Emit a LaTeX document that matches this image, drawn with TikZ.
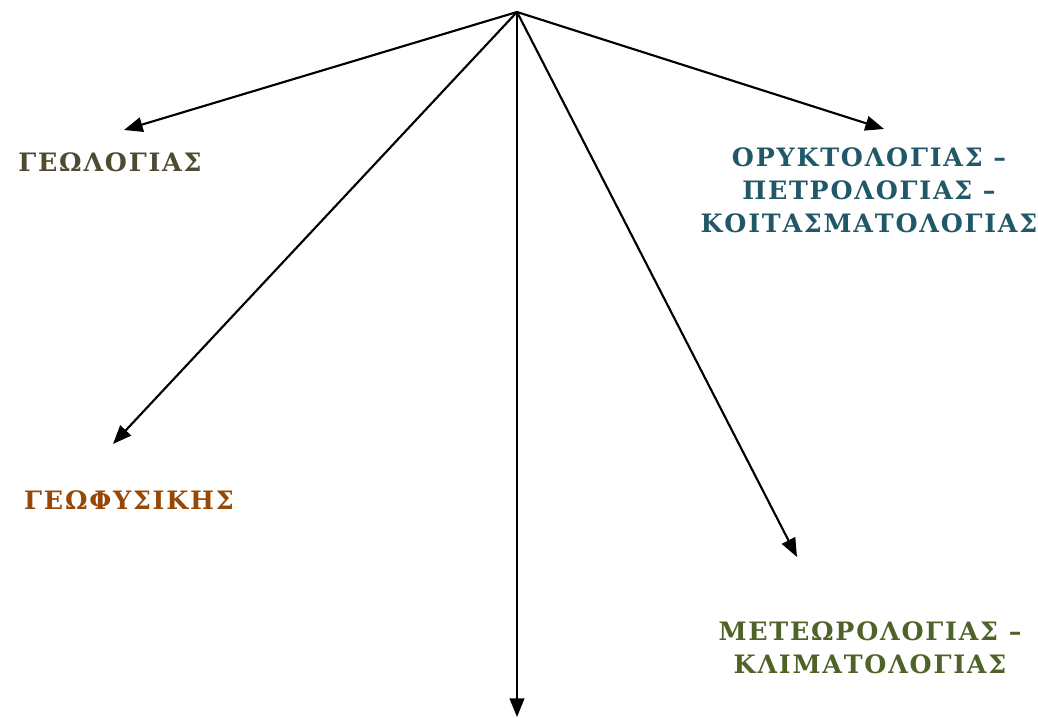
\documentclass[tikz,border=0pt]{standalone}
\usepackage{fontspec}
\usetikzlibrary{arrows.meta}
\newfontfamily\branchfont[LetterSpace=7]{DejaVu Serif}
\definecolor{geolcolor}{HTML}{4F4A32}
\definecolor{geofcolor}{HTML}{974806}
\definecolor{orykcolor}{HTML}{215868}
\definecolor{metecolor}{HTML}{4F6228}
\tikzset{
  branch/.style={-{Triangle[length=14pt,width=11pt]},line width=1.6pt},
  branchlabel/.style={font=\branchfont\bfseries\fontsize{19}{24.75}\selectfont,align=center,inner sep=0pt}
}
\begin{document}
\begin{tikzpicture}[x=0.75pt,y=-0.75pt]
		\useasboundingbox (0,0) rectangle (1038,717);
		\coordinate (root) at (517,12);
		
		\coordinate (geolEnd) at (124,130);
		\coordinate (geofEnd) at (113,444);
		\coordinate (downEnd) at (517,717);
		\coordinate (meteEnd) at (797,557);
		\coordinate (orykEnd) at (884,129);
		
		\draw [branch] (root) -- (geolEnd);
		\draw [branch] (root) -- (geofEnd);
		\draw [branch] (root) -- (downEnd);
		\draw [branch] (root) -- (meteEnd);
		\draw [branch] (root) -- (orykEnd);
		
		\node [branchlabel,color=geolcolor] (geol) at (110,162) {ΓΕΩΛΟΓΙΑΣ};
		\node [branchlabel,color=geofcolor] (geof) at (129,500) {ΓΕΩΦΥΣΙΚΗΣ};
		\node [branchlabel,color=orykcolor] (oryk) at (869,190) {ΟΡΥΚΤΟΛΟΓΙΑΣ –\\ΠΕΤΡΟΛΟΓΙΑΣ –\\ΚΟΙΤΑΣΜΑΤΟΛΟΓΙΑΣ};
		\node [branchlabel,color=metecolor] (mete) at (870,648) {ΜΕΤΕΩΡΟΛΟΓΙΑΣ –\\ΚΛΙΜΑΤΟΛΟΓΙΑΣ};
\end{tikzpicture}
\end{document}
